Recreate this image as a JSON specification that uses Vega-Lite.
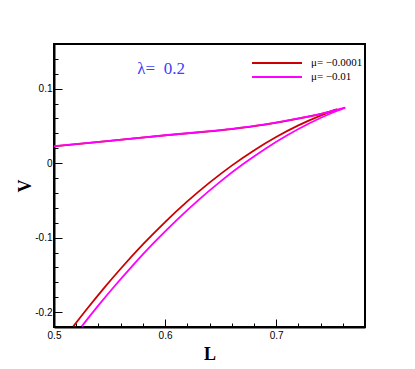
{
  "$schema": "https://vega.github.io/schema/vega-lite/v6.json",
  "width": 311,
  "height": 283,
  "autosize": {"type": "none"},
  "padding": {"left": 54, "top": 44, "right": 50, "bottom": 42},
  "background": "white",
  "config": {
    "view": {"stroke": "black", "strokeWidth": 2},
    "axis": {"grid": false, "domainColor": "black", "domainWidth": 2, "tickColor": "black", "tickWidth": 1,
             "labelFont": "Liberation Sans", "labelFontSize": 10, "labelColor": "black", "labelOverlap": false, "labelFlush": false,
             "titleFont": "Liberation Serif", "titleFontSize": 18, "titleFontWeight": "bold", "titleColor": "black"}
  },
  "layer": [
    {
      "data": {"values": [
        {"s": "μ= −0.0001", "b": "lo", "L": 0.5174, "V": -0.2191},
        {"s": "μ= −0.0001", "b": "lo", "L": 0.53, "V": -0.1951},
        {"s": "μ= −0.0001", "b": "lo", "L": 0.545, "V": -0.1677},
        {"s": "μ= −0.0001", "b": "lo", "L": 0.56, "V": -0.1418},
        {"s": "μ= −0.0001", "b": "lo", "L": 0.58, "V": -0.1092},
        {"s": "μ= −0.0001", "b": "lo", "L": 0.6, "V": -0.0791},
        {"s": "μ= −0.0001", "b": "lo", "L": 0.62, "V": -0.0514},
        {"s": "μ= −0.0001", "b": "lo", "L": 0.64, "V": -0.0262},
        {"s": "μ= −0.0001", "b": "lo", "L": 0.66, "V": -0.0033},
        {"s": "μ= −0.0001", "b": "lo", "L": 0.68, "V": 0.0171},
        {"s": "μ= −0.0001", "b": "lo", "L": 0.7, "V": 0.0351},
        {"s": "μ= −0.0001", "b": "lo", "L": 0.72, "V": 0.0507},
        {"s": "μ= −0.0001", "b": "lo", "L": 0.74, "V": 0.0638},
        {"s": "μ= −0.0001", "b": "lo", "L": 0.7547, "V": 0.0722},
        {"s": "μ= −0.0001", "b": "up", "L": 0.7547, "V": 0.0722},
        {"s": "μ= −0.0001", "b": "up", "L": 0.745, "V": 0.0678},
        {"s": "μ= −0.0001", "b": "up", "L": 0.72, "V": 0.0598},
        {"s": "μ= −0.0001", "b": "up", "L": 0.69, "V": 0.0518},
        {"s": "μ= −0.0001", "b": "up", "L": 0.66, "V": 0.0458},
        {"s": "μ= −0.0001", "b": "up", "L": 0.63, "V": 0.0413},
        {"s": "μ= −0.0001", "b": "up", "L": 0.6, "V": 0.0373},
        {"s": "μ= −0.0001", "b": "up", "L": 0.55, "V": 0.0298},
        {"s": "μ= −0.0001", "b": "up", "L": 0.5, "V": 0.0226},
        {"s": "μ= −0.01", "b": "lo", "L": 0.525, "V": -0.2191},
        {"s": "μ= −0.01", "b": "lo", "L": 0.54, "V": -0.191},
        {"s": "μ= −0.01", "b": "lo", "L": 0.555, "V": -0.1643},
        {"s": "μ= −0.01", "b": "lo", "L": 0.57, "V": -0.1388},
        {"s": "μ= −0.01", "b": "lo", "L": 0.59, "V": -0.1068},
        {"s": "μ= −0.01", "b": "lo", "L": 0.61, "V": -0.0771},
        {"s": "μ= −0.01", "b": "lo", "L": 0.63, "V": -0.0496},
        {"s": "μ= −0.01", "b": "lo", "L": 0.65, "V": -0.0244},
        {"s": "μ= −0.01", "b": "lo", "L": 0.67, "V": -0.0016},
        {"s": "μ= −0.01", "b": "lo", "L": 0.69, "V": 0.0191},
        {"s": "μ= −0.01", "b": "lo", "L": 0.71, "V": 0.0374},
        {"s": "μ= −0.01", "b": "lo", "L": 0.73, "V": 0.0535},
        {"s": "μ= −0.01", "b": "lo", "L": 0.75, "V": 0.0673},
        {"s": "μ= −0.01", "b": "lo", "L": 0.7622, "V": 0.0745},
        {"s": "μ= −0.01", "b": "up", "L": 0.7622, "V": 0.0745},
        {"s": "μ= −0.01", "b": "up", "L": 0.745, "V": 0.068},
        {"s": "μ= −0.01", "b": "up", "L": 0.72, "V": 0.06},
        {"s": "μ= −0.01", "b": "up", "L": 0.69, "V": 0.052},
        {"s": "μ= −0.01", "b": "up", "L": 0.66, "V": 0.046},
        {"s": "μ= −0.01", "b": "up", "L": 0.63, "V": 0.0415},
        {"s": "μ= −0.01", "b": "up", "L": 0.6, "V": 0.0375},
        {"s": "μ= −0.01", "b": "up", "L": 0.55, "V": 0.03},
        {"s": "μ= −0.01", "b": "up", "L": 0.5, "V": 0.0228}
      ]},
      "mark": {"type": "line", "strokeWidth": 1.8, "interpolate": "monotone", "clip": true},
      "encoding": {
        "x": {"field": "L", "type": "quantitative",
              "scale": {"domain": [0.5, 0.78], "nice": false, "zero": false},
              "axis": {"title": "L", "orient": "bottom", "tickCount": 100,
                       "values": [0.5,0.52,0.54,0.56,0.58,0.6,0.62,0.64,0.66,0.68,0.7,0.72,0.74,0.76],
                       "tickSize": {"condition": {"test": "abs(datum.value*10-round(datum.value*10))<1e-6", "value": -8}, "value": -4},
                       "labelExpr": "abs(datum.value*10-round(datum.value*10))<1e-6 ? replace(format(datum.value,'.1~f'),'\u2212','-') : ''",
                       "labelPadding": 11, "titlePadding": 1}},
        "y": {"field": "V", "type": "quantitative",
              "scale": {"domain": [-0.22, 0.16], "nice": false, "zero": false},
              "axis": {"title": "V", "orient": "left", "tickCount": 100,
                       "values": [-0.2,-0.18,-0.16,-0.14,-0.12,-0.1,-0.08,-0.06,-0.04,-0.02,0,0.02,0.04,0.06,0.08,0.1,0.12,0.14],
                       "tickSize": {"condition": {"test": "abs(datum.value*10-round(datum.value*10))<1e-6", "value": -8}, "value": -4},
                       "labelExpr": "abs(datum.value*10-round(datum.value*10))<1e-6 ? replace(format(datum.value,'.1~f'),'\u2212','-') : ''",
                       "labelPadding": 10, "titlePadding": 0}},
        "color": {"field": "s", "type": "nominal",
                  "scale": {"domain": ["μ= −0.0001", "μ= −0.01"], "range": ["#cc0000", "#ff00ff"]},
                  "legend": {"title": null, "orient": "none", "legendX": 217, "legendY": 13,
                             "symbolType": "M-5,0H5", "symbolSize": 100, "symbolStrokeWidth": 1.8,
                             "labelFont": "Liberation Serif", "labelFontSize": 11, "labelColor": "black",
                             "labelOffset": 28, "rowPadding": 3, "padding": 0}},
        "detail": {"field": "b"},
        "order": {"field": "L", "type": "quantitative"}
      }
    },
    {
      "data": {"values": [{"L": 0.575, "V": 0.127, "t": "λ=\u00a0 0.2"}]},
      "mark": {"type": "text", "align": "left", "baseline": "middle", "font": "Liberation Serif", "fontSize": 17, "color": "#4040ff"},
      "encoding": {
        "x": {"field": "L", "type": "quantitative"},
        "y": {"field": "V", "type": "quantitative"},
        "text": {"field": "t"}
      }
    }
  ]
}
